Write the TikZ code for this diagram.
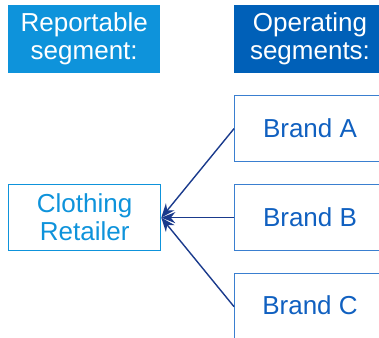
\documentclass[tikz,border=0pt]{standalone}
\usepackage{fontspec}
\setmainfont{Liberation Sans}
\usetikzlibrary{arrows.meta}
\definecolor{lightblue}{HTML}{0E93DB}
\definecolor{darkblue}{HTML}{0060B8}
\definecolor{brandtxt}{HTML}{1060C0}
\definecolor{brandline}{HTML}{3A7FD0}
\definecolor{arrowcol}{HTML}{1A3A8C}
\tikzset{
  x=1pt, y=-1pt,
  bigfont/.style={font=\fontsize{26}{28}\selectfont},
  hdr/.style={anchor=north west, inner sep=0pt, bigfont},
  brandbox/.style={draw=brandline, line width=1.3pt, anchor=north west, inner sep=0pt, minimum width=160, minimum height=66},
  brandtext/.style={text=brandtxt, bigfont},
  conn/.style={draw=arrowcol, line width=1.4pt, -{Stealth[length=14pt,width=11pt]}}
}
\begin{document}
\begin{tikzpicture}
\useasboundingbox (0,0) rectangle (379,337);
\begin{scope}
\clip (0,0) rectangle (379,337);
\node[hdr, fill=lightblue, minimum width=152, minimum height=68] (repbox) at (8,5) {};
\node[text=white, align=center, bigfont] (rep) at (repbox.center) {Reportable\\segment:};
\node[hdr, fill=darkblue, minimum width=160, minimum height=68] (opbox) at (234,5) {};
\node[text=white, align=center, bigfont] (op) at (310,39) {Operating\\segments:};
\node[brandbox] (a) at (234,95) {};
\node[brandbox] (b) at (234,184) {};
\node[brandbox] (c) at (234,273) {};
\node[brandtext] (ta) at (310,128) {Brand A};
\node[brandtext] (tb) at (310,217) {Brand B};
\node[brandtext] (tc) at (310,305) {Brand C};
\node[draw=lightblue, line width=1.3pt, anchor=north west, inner sep=0pt, minimum width=152, minimum height=66, text=lightblue, align=center, bigfont] (cr) at (8,184) {Clothing\\Retailer};
\draw[conn] (a.west) -- (cr.east);
\draw[conn] (b.west) -- (cr.east);
\draw[conn] (c.west) -- (cr.east);
\end{scope}
\end{tikzpicture}
\end{document}
